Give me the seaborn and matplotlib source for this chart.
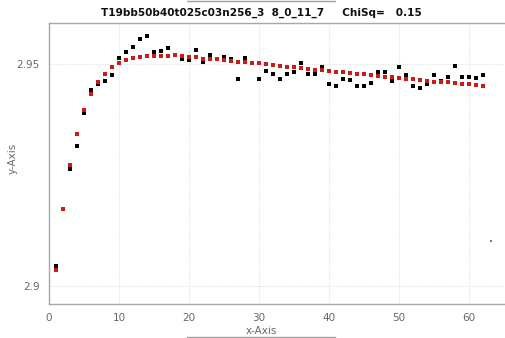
import matplotlib
matplotlib.use("Agg")
import matplotlib.pyplot as plt
import seaborn as sns
import pandas as pd
from matplotlib.lines import Line2D

x_vals = list(range(1, 63))
data_y = [2.9045, 2.9172, 2.9264, 2.9316, 2.9389, 2.9441, 2.9455, 2.9461, 2.9475, 2.9513,
          2.9526, 2.9538, 2.9555, 2.9563, 2.9526, 2.9529, 2.9535, 2.9520, 2.9512, 2.9508,
          2.9531, 2.9505, 2.9519, 2.9510, 2.9515, 2.9510, 2.9466, 2.9513, 2.9502, 2.9466,
          2.9484, 2.9477, 2.9465, 2.9477, 2.9481, 2.9501, 2.9476, 2.9476, 2.9492, 2.9455,
          2.9449, 2.9466, 2.9464, 2.9449, 2.9449, 2.9457, 2.9481, 2.9481, 2.9462, 2.9493,
          2.9475, 2.9450, 2.9445, 2.9455, 2.9474, 2.9462, 2.9471, 2.9496, 2.9471, 2.9471,
          2.9469, 2.9475]
fit_y = [2.9036, 2.9172, 2.9271, 2.9342, 2.9395, 2.9432, 2.9459, 2.9478, 2.9492, 2.9503,
         2.9508, 2.9513, 2.9516, 2.9518, 2.9518, 2.9518, 2.9518, 2.9520, 2.9517, 2.9516,
         2.9515, 2.9512, 2.9511, 2.9510, 2.9509, 2.9506, 2.9505, 2.9504, 2.9502, 2.9502,
         2.9499, 2.9497, 2.9496, 2.9494, 2.9492, 2.9490, 2.9489, 2.9487, 2.9486, 2.9484,
         2.9482, 2.9481, 2.9479, 2.9477, 2.9476, 2.9475, 2.9473, 2.9471, 2.9470, 2.9468,
         2.9466, 2.9465, 2.9463, 2.9462, 2.9460, 2.9460, 2.9458, 2.9457, 2.9455, 2.9454,
         2.9452, 2.9450]
stray_x = [63.1]
stray_y = [2.9102]
x_ticks = [0, 10, 20, 30, 40, 50, 60]
y_ticks = [2.9, 2.95]
y_tick_labels = ["2.9", "2.95"]
title = "T19bb50b40t025c03n256_3  8_0_11_7     ChiSq=   0.15"

df_data = pd.DataFrame({"x": x_vals, "y": data_y})
df_fit = pd.DataFrame({"x": x_vals, "y": fit_y})
df_stray = pd.DataFrame({"x": stray_x, "y": stray_y})

sns.set_style("white")
plt.rcParams["font.family"] = ["DejaVu Sans"]

fig = plt.figure(figsize=(5.06, 3.38), dpi=100)
ax = fig.add_axes([49 / 506, 34 / 338, 1 - 49 / 506, (304 - 23) / 338])

sns.scatterplot(data=df_data, x="x", y="y", ax=ax, marker="s", s=6.5, color="black",
                linewidth=0, zorder=3)
sns.scatterplot(data=df_fit, x="x", y="y", ax=ax, marker="s", s=4.8, color="#cc1a1a",
                linewidth=0, zorder=4)
sns.scatterplot(data=df_stray, x="x", y="y", ax=ax, marker="s", s=2, color="#777777",
                linewidth=0, zorder=4)

ax.set_xlim(0, 65.3)
ax.set_ylim(2.8959, 2.9592)
ax.set_xticks(x_ticks)
ax.set_yticks(y_ticks)
ax.set_yticklabels(y_tick_labels)
ax.grid(True, color="#e4e4e4", linestyle=(0, (1, 1)), linewidth=0.8)
ax.set_axisbelow(True)
for side in ["left", "bottom", "top"]:
    ax.spines[side].set_color("#a8a8a8")
    ax.spines[side].set_linewidth(1.0)
ax.spines["right"].set_visible(False)
ax.tick_params(axis="both", colors="#a8a8a8", labelcolor="#666666", labelsize=7.5,
               length=3, width=0.8, direction="out")
ax.set_xlabel("x-Axis", fontsize=7.5, color="#666666")
ax.set_ylabel("y-Axis", fontsize=7.5, color="#666666")
ax.xaxis.set_label_coords((261 - 49) / 457, -(326 - 304) / 281)
ax.yaxis.set_label_coords((18 - 49) / 457, (304 - 158) / 281)
fig.text(261 / 506, 1 - 13 / 338, title, ha="center", va="center", fontsize=7.6,
         fontweight="bold", color="#111111")

fig.add_artist(Line2D([187 / 506, 335 / 506], [1 - 1 / 338, 1 - 1 / 338],
                      transform=fig.transFigure, color="#a0a0a0", linewidth=1))
fig.add_artist(Line2D([187 / 506, 335 / 506], [1 / 338, 1 / 338],
                      transform=fig.transFigure, color="#a0a0a0", linewidth=1))

fig.savefig("out.png", dpi=100)
